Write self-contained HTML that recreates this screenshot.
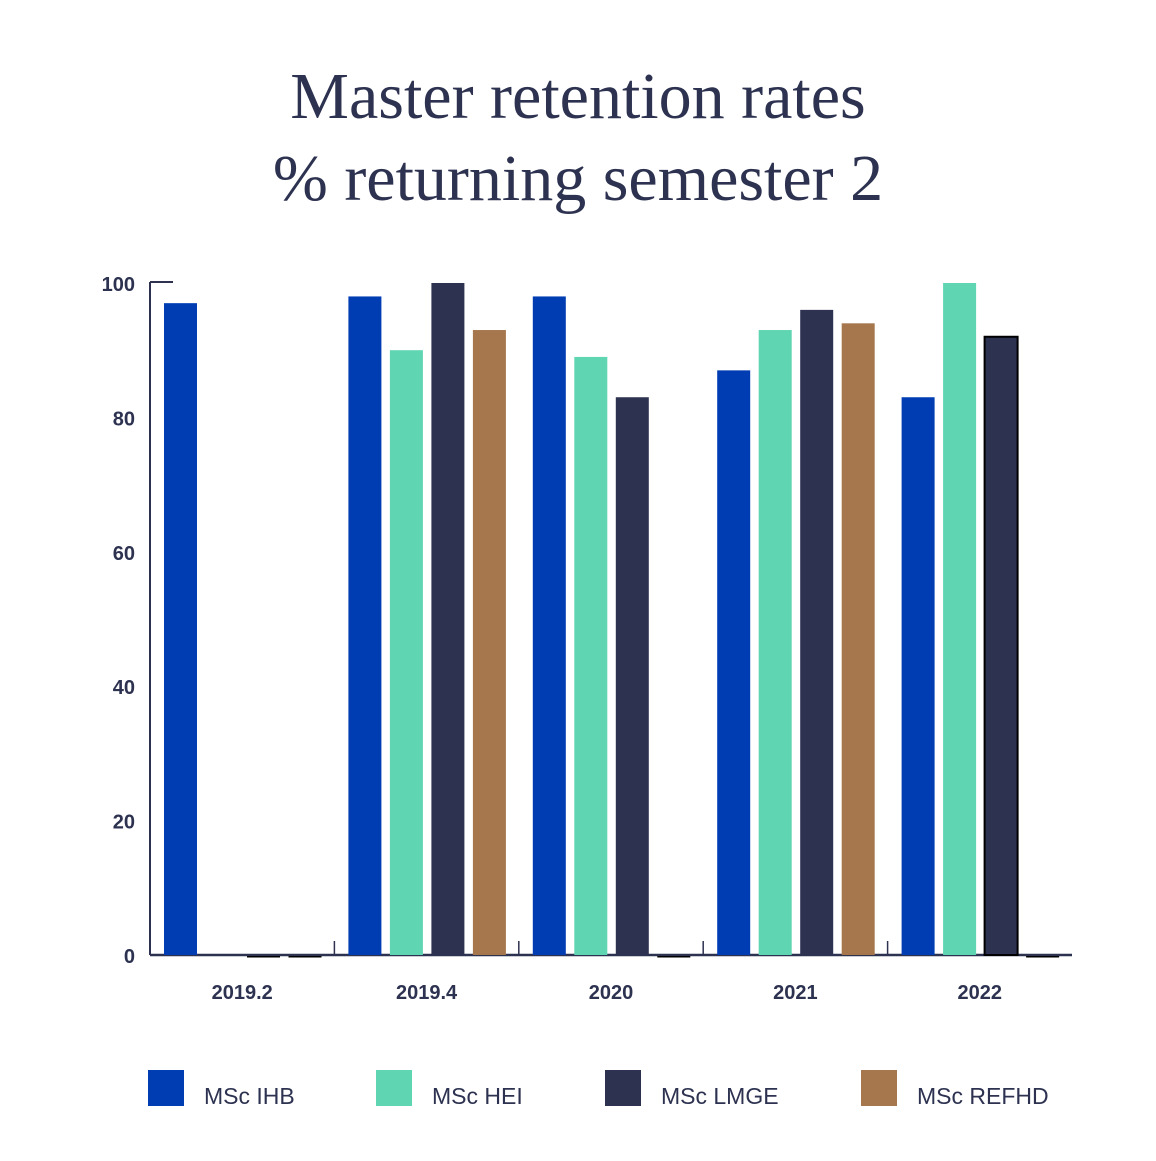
<!DOCTYPE html>
<html><head><meta charset="utf-8"><style>
body{margin:0;background:#fff;width:1156px;height:1156px;overflow:hidden}
.t{font-family:"Liberation Serif",serif;fill:#2d3250}
.a{font-family:"Liberation Sans",sans-serif;font-weight:bold;fill:#2d3250;font-size:20px}
.l{font-family:"Liberation Sans",sans-serif;fill:#2d3250;font-size:23px}
</style></head><body>
<svg id="chart" width="1156" height="1156" xmlns="http://www.w3.org/2000/svg">
<text class="t" x="578" y="118" font-size="66" text-anchor="middle">Master retention rates</text>
<text class="t" x="578" y="200" font-size="66" text-anchor="middle">% returning semester 2</text>
<g id="plot"></g>
</svg>
<script>
const categories=["2019.2","2019.4","2020","2021","2022"];
const seriesNames=["MSc IHB","MSc HEI","MSc LMGE","MSc REFHD"];
const ihb=[97,98,98,87,83];
const hei=[0,90,89,93,100];
const lmge=[0,100,83,96,92];
const refhd=[0,93,0,94,0];
const yTicks=[0,20,40,60,80,100];
const colors=["#003db3","#5fd5b1","#2d3250","#a6764d"];
const series=[ihb,hei,lmge,refhd];
const NS="http://www.w3.org/2000/svg";
const g=document.getElementById("plot");
const x0=150,x1=1072,yb=955,yt=283;
const bw=(x1-x0)/categories.length;
const y=v=>yb-(v/100)*(yb-yt);
function mk(t,a){const e=document.createElementNS(NS,t);for(const k in a)e.setAttribute(k,a[k]);g.appendChild(e);return e;}
let e;
e=mk("line",{x1:x0,y1:yb,x2:x0,y2:yt-1,stroke:"#2d3250","stroke-width":2});


e=mk("line",{x1:x0,y1:yt-1,x2:x0+23,y2:yt-1,stroke:"#2d3250","stroke-width":2});


e=mk("line",{x1:x0,y1:yb,x2:x1,y2:yb,stroke:"#2d3250","stroke-width":2.5});


yTicks.forEach(v=>{
 e=mk("text",{x:135,y:y(v)+8,"text-anchor":"end",class:"a"});e.textContent=v;
 
 
});
categories.forEach((c,i)=>{
 const gx=x0+i*bw;
 if(i>0){e=mk("line",{x1:gx,y1:yb,x2:gx,y2:yb-14,stroke:"#2d3250","stroke-width":1.5});
 
 }
 e=mk("text",{x:gx+bw/2,y:999,"text-anchor":"middle",class:"a"});e.textContent=c;
 
 
 series.forEach((s,j)=>{
  const v=s[i];const bx=gx+14+j*41.5;
  if(v<=0){
   if(j>=2){e=mk("rect",{x:bx,y:yb+1,width:33,height:1.5,fill:"#000"});
   
   }
   return;
  }
  e=mk("rect",{x:bx,y:y(v),width:33,height:yb-y(v),fill:colors[j]});
  if(i==4&&j==2){e.setAttribute("stroke","#000");e.setAttribute("stroke-width","2");}
  
  
 });
});
const lx=[148,376,605,861];
seriesNames.forEach((n,j)=>{
 e=mk("rect",{x:lx[j],y:1070,width:36,height:36,fill:colors[j]});
 
 
 e=mk("text",{x:lx[j]+56,y:1104,class:"l"});e.textContent=n;
 
 
});
</script>
</body></html>
